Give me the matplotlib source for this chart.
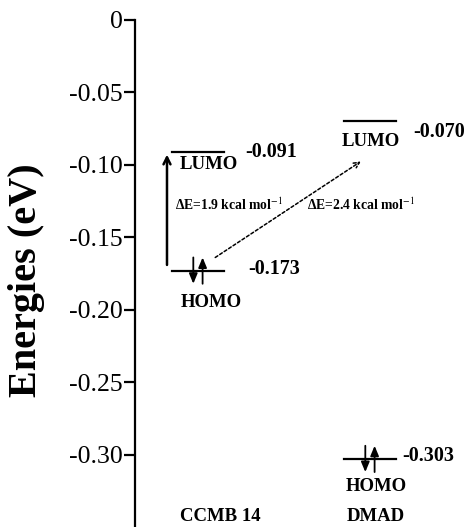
import matplotlib
matplotlib.use("Agg")
import matplotlib.pyplot as plt

# datos del diagrama de orbitales
moleculas = ["CCMB 14", "DMAD"]
x_mol = [1, 2]
lumo = [-0.091, -0.070]
homo = [-0.173, -0.303]
delta_e = [1.9, 2.4]
yticks = [0, -0.05, -0.10, -0.15, -0.20, -0.25, -0.30]
ytick_labels = ["0", "-0.05", "-0.10", "-0.15", "-0.20", "-0.25", "-0.30"]

plt.rcParams["font.family"] = ["Liberation Serif", "DejaVu Serif"]
plt.rcParams["axes.unicode_minus"] = False
plt.rcParams["mathtext.fontset"] = "stix"

fig = plt.figure(figsize=(4.68, 5.27), dpi=100)
ax = fig.add_axes([135 / 468, 0, 333 / 468, 507 / 527])

ancho = 0.15  # media anchura de cada nivel
for i in range(2):
    ax.plot([x_mol[i] - ancho, x_mol[i] + ancho], [lumo[i], lumo[i]], color="black", lw=1.6)
    ax.plot([x_mol[i] - ancho, x_mol[i] + ancho], [homo[i], homo[i]], color="black", lw=1.6)
    # electrones (flechas de espin)
    ax.annotate("", xy=(x_mol[i] - 0.027, homo[i] - 0.011), xytext=(x_mol[i] - 0.027, homo[i] + 0.011),
                arrowprops=dict(arrowstyle="-|>,head_length=0.6,head_width=0.25", color="black", lw=1.3))
    ax.annotate("", xy=(x_mol[i] + 0.027, homo[i] + 0.011), xytext=(x_mol[i] + 0.027, homo[i] - 0.011),
                arrowprops=dict(arrowstyle="-|>,head_length=0.6,head_width=0.25", color="black", lw=1.3))

# etiquetas LUMO / HOMO y valores
ax.text(x_mol[0] + 0.064, lumo[0] - 0.009, "LUMO", ha="center", va="center", fontsize=13.5, fontweight="bold")
ax.text(x_mol[1] + 0.006, lumo[1] - 0.014, "LUMO", ha="center", va="center", fontsize=13.5, fontweight="bold")
ax.text(x_mol[0] + 0.075, homo[0] - 0.022, "HOMO", ha="center", va="center", fontsize=13.5, fontweight="bold")
ax.text(x_mol[1] + 0.035, homo[1] - 0.019, "HOMO", ha="center", va="center", fontsize=13.5, fontweight="bold")

ax.text(x_mol[0] + 0.273, lumo[0], "%.3f" % lumo[0], ha="left", va="center", fontsize=14.5, fontweight="bold")
ax.text(x_mol[1] + 0.25, lumo[1] - 0.007, "%.3f" % lumo[1], ha="left", va="center", fontsize=14.5, fontweight="bold")
ax.text(x_mol[0] + 0.29, homo[0] + 0.001, "%.3f" % homo[0], ha="left", va="center", fontsize=14.5, fontweight="bold")
ax.text(x_mol[1] + 0.19, homo[1] + 0.002, "%.3f" % homo[1], ha="left", va="center", fontsize=14.5, fontweight="bold")

# nombres de las moleculas
ax.text(x_mol[0] + 0.128, -0.343, moleculas[0], ha="center", va="center", fontsize=13.5, fontweight="bold")
ax.text(x_mol[1] + 0.035, -0.343, moleculas[1], ha="center", va="center", fontsize=13.5, fontweight="bold")

# transiciones
ax.annotate("", xy=(x_mol[0] - 0.18, lumo[0]), xytext=(x_mol[0] - 0.18, homo[0] + 0.002),
            arrowprops=dict(arrowstyle="->,head_length=0.5,head_width=0.25", color="black", lw=1.8))
ax.annotate("", xy=(x_mol[1] - 0.04, lumo[1] - 0.0266), xytext=(x_mol[0] + 0.087, homo[0] + 0.008),
            arrowprops=dict(arrowstyle="->,head_length=0.4,head_width=0.2", color="black", lw=1.1,
                            linestyle=(0, (2, 1.5))))

ax.text(x_mol[0] + 0.18, -0.1277, "ΔE=%.1f kcal mol$^{-1}$" % delta_e[0], ha="center", va="center",
        fontsize=9.8, fontweight="bold")
ax.text(x_mol[1] - 0.05, -0.1277, "ΔE=%.1f kcal mol$^{-1}$" % delta_e[1], ha="center", va="center",
        fontsize=9.8, fontweight="bold")

ax.set_xlim(0.634, 2.57)
ax.set_ylim(-0.35, 0)
ax.set_yticks(yticks)
ax.set_yticklabels(ytick_labels, fontsize=18.5)
ax.tick_params(axis="y", direction="out", length=8, width=1.6, pad=1)
ax.set_xticks([])
ax.spines["top"].set_visible(False)
ax.spines["right"].set_visible(False)
ax.spines["bottom"].set_visible(False)
ax.spines["left"].set_linewidth(1.6)
ax.set_ylabel("Energies (eV)", fontsize=29, fontweight="bold")
ax.yaxis.set_label_coords(-0.27, 0.487)

plt.savefig("out.png", dpi=100)
